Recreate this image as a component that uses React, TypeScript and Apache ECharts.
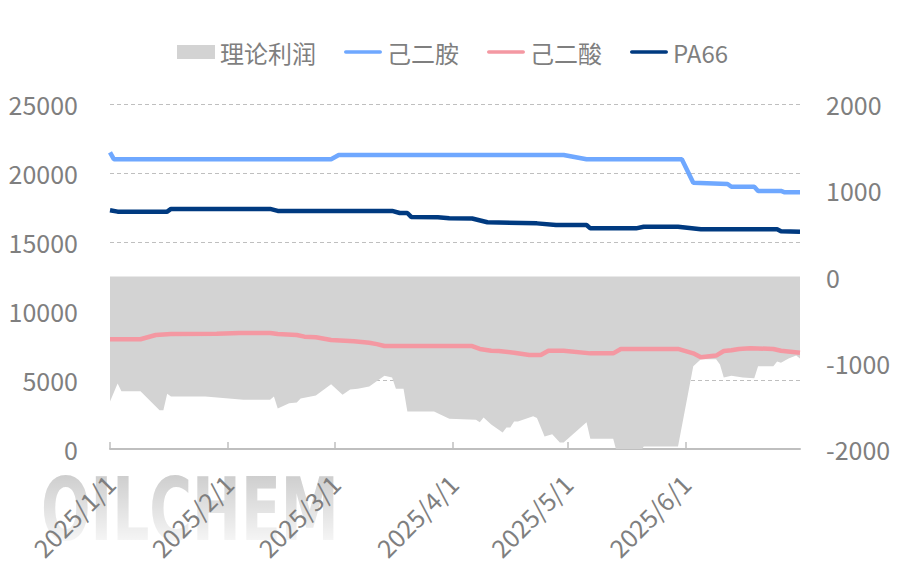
import React, { useEffect, useRef } from "react";
import * as echarts from "echarts";

const legendNames = ["理论利润", "己二胺", "己二酸", "PA66"];
const leftTicks = [0, 25000, 5000];
const rightTicks = [-2000, 2000, 1000];

const profitData: [string, number][] = [
  ["2025-01-01", -1450], ["2025-01-03", -1240], ["2025-01-04", -1330], ["2025-01-09", -1330],
  ["2025-01-14", -1550], ["2025-01-15", -1550], ["2025-01-16", -1360], ["2025-01-17", -1390],
  ["2025-01-26", -1390], ["2025-02-05", -1430], ["2025-02-12", -1430], ["2025-02-13", -1390],
  ["2025-02-14", -1530], ["2025-02-17", -1470], ["2025-02-19", -1460], ["2025-02-20", -1415],
  ["2025-02-24", -1380], ["2025-02-28", -1250], ["2025-03-03", -1370], ["2025-03-05", -1310],
  ["2025-03-07", -1300], ["2025-03-10", -1275], ["2025-03-14", -1150], ["2025-03-16", -1170],
  ["2025-03-17", -1300], ["2025-03-19", -1300], ["2025-03-20", -1565], ["2025-03-27", -1565],
  ["2025-03-31", -1650], ["2025-04-07", -1660], ["2025-04-08", -1690], ["2025-04-09", -1635],
  ["2025-04-11", -1715], ["2025-04-14", -1810], ["2025-04-15", -1750], ["2025-04-16", -1750],
  ["2025-04-17", -1680], ["2025-04-18", -1680], ["2025-04-22", -1620], ["2025-04-23", -1640],
  ["2025-04-25", -1855], ["2025-04-27", -1830], ["2025-04-29", -1925], ["2025-04-30", -1925],
  ["2025-05-06", -1690], ["2025-05-07", -1880], ["2025-05-13", -1880], ["2025-05-14", -2050],
  ["2025-05-20", -2050], ["2025-05-21", -1970], ["2025-05-30", -1970], ["2025-06-03", -1040],
  ["2025-06-05", -960], ["2025-06-09", -960], ["2025-06-10", -1020], ["2025-06-11", -1170],
  ["2025-06-13", -1150], ["2025-06-16", -1170], ["2025-06-19", -1180], ["2025-06-20", -1040],
  ["2025-06-24", -1040], ["2025-06-25", -985], ["2025-06-26", -1000], ["2025-06-28", -950],
  ["2025-06-30", -915], ["2025-07-01", -950],
];

const hmdaData: [string, number][] = [
  ["2025-01-01", 21500], ["2025-01-02", 21000], ["2025-02-28", 21000], ["2025-03-02", 21300],
  ["2025-04-30", 21300], ["2025-05-06", 21000], ["2025-05-31", 21000], ["2025-06-03", 19300],
  ["2025-06-12", 19200], ["2025-06-13", 19000], ["2025-06-19", 19000], ["2025-06-20", 18700],
  ["2025-06-26", 18700], ["2025-06-27", 18600], ["2025-07-01", 18600],
];

const adipicData: [string, number][] = [
  ["2025-01-01", 7950], ["2025-01-09", 7950], ["2025-01-13", 8260], ["2025-01-17", 8330],
  ["2025-01-29", 8350], ["2025-02-04", 8400], ["2025-02-12", 8400], ["2025-02-14", 8330],
  ["2025-02-19", 8260], ["2025-02-21", 8140], ["2025-02-24", 8100], ["2025-02-28", 7900],
  ["2025-03-06", 7800], ["2025-03-10", 7700], ["2025-03-12", 7600], ["2025-03-14", 7460],
  ["2025-04-06", 7460], ["2025-04-08", 7250], ["2025-04-11", 7120], ["2025-04-13", 7100],
  ["2025-04-17", 6980], ["2025-04-21", 6810], ["2025-04-24", 6810], ["2025-04-26", 7120],
  ["2025-04-30", 7120], ["2025-05-07", 6930], ["2025-05-13", 6930], ["2025-05-15", 7250],
  ["2025-05-30", 7250], ["2025-06-03", 6930], ["2025-06-05", 6650], ["2025-06-09", 6770],
  ["2025-06-11", 7100], ["2025-06-13", 7150], ["2025-06-15", 7250], ["2025-06-18", 7300],
  ["2025-06-24", 7250], ["2025-06-26", 7120], ["2025-07-01", 6980],
];

const pa66Data: [string, number][] = [
  ["2025-01-01", 17300], ["2025-01-03", 17200], ["2025-01-16", 17200], ["2025-01-17", 17400],
  ["2025-02-12", 17400], ["2025-02-14", 17250], ["2025-03-16", 17250], ["2025-03-18", 17100],
  ["2025-03-20", 17100], ["2025-03-21", 16820], ["2025-03-28", 16800], ["2025-03-31", 16720],
  ["2025-04-06", 16700], ["2025-04-10", 16430], ["2025-04-23", 16350], ["2025-04-28", 16230],
  ["2025-05-06", 16230], ["2025-05-07", 15990], ["2025-05-19", 15990], ["2025-05-21", 16110],
  ["2025-05-30", 16110], ["2025-06-05", 15920], ["2025-06-25", 15920], ["2025-06-26", 15780],
  ["2025-07-01", 15750],
];

const GRAY_TEXT = "#7f7f7f";
const FONT = '"Noto Sans CJK SC", "Noto Sans", sans-serif';
const LINE_ICON = "path://M0,0 M42,14 M2,5 L40,5 A2,2 0 0 1 40,9 L2,9 A2,2 0 0 1 2,5 Z";

function fmtDate(v: number) {
  const d = new Date(v);
  return `${d.getFullYear()}/${d.getMonth() + 1}/${d.getDate()}`;
}

export default function App() {
  const ref = useRef<HTMLDivElement>(null);
  useEffect(() => {
    if (!ref.current) return;
    const chart = echarts.init(ref.current, undefined, { renderer: "svg" });
    const DAY = 86400000;
    chart.setOption({
      animation: false,
      textStyle: { fontFamily: FONT },
      graphic: [
        {
          type: "text",
          left: 41,
          top: 466,
          z: -10,
          scaleX: 0.67,
          style: {
            text: "OILCHEM",
            font: 'bold 87px "DejaVu Sans", sans-serif',
            fill: "#cccccc",
          },
        },
        {
          type: "rect",
          left: 30,
          top: 472,
          z: -9,
          shape: { width: 330, height: 72 },
          style: {
            fill: new echarts.graphic.LinearGradient(0, 0, 0, 1, [
              { offset: 0, color: "rgba(255,255,255,0)" },
              { offset: 1, color: "rgba(255,255,255,0.85)" },
            ]),
          },
        },
      ],
      legend: {
        top: 35,
        left: 172,
        itemGap: 28,
        itemWidth: 38,
        itemHeight: 14,
        textStyle: { fontSize: 24, color: GRAY_TEXT, fontFamily: FONT },
        data: [
          { name: legendNames[0], icon: "rect" },
          { name: legendNames[1], icon: LINE_ICON },
          { name: legendNames[2], icon: LINE_ICON },
          { name: legendNames[3], icon: LINE_ICON },
        ],
      },
      grid: { left: 110, right: 106, top: 104, bottom: 131, containLabel: false },
      xAxis: {
        type: "time",
        min: "2025-01-01",
        max: "2025-07-01",
        minInterval: 28 * DAY,
        maxInterval: 31 * DAY,
        axisLine: { show: true, lineStyle: { color: "#bfbfbf", width: 2 } },
        axisTick: { show: true, inside: true, length: 7, lineStyle: { color: "#bfbfbf", width: 1.5 } },
        splitLine: { show: false },
        axisLabel: {
          rotate: 45,
          margin: 30,
          fontSize: 25,
          color: GRAY_TEXT,
          fontFamily: FONT,
          showMaxLabel: false,
          hideOverlap: false,
          formatter: (v: number) => fmtDate(v),
        },
      },
      yAxis: [
        {
          type: "value",
          min: leftTicks[0],
          max: leftTicks[1],
          interval: leftTicks[2],
          axisLine: { show: false },
          axisTick: { show: false },
          axisLabel: {
            fontSize: 25,
            color: GRAY_TEXT,
            margin: 32,
            fontFamily: FONT,
            formatter: (v: number) => String(v),
          },
          splitLine: { show: true, lineStyle: { color: "#bfbfbf", type: [4, 3], width: 1 } },
        },
        {
          type: "value",
          min: rightTicks[0],
          max: rightTicks[1],
          interval: rightTicks[2],
          axisLine: { show: false },
          axisTick: { show: false },
          axisLabel: {
            fontSize: 25,
            color: GRAY_TEXT,
            margin: 26,
            fontFamily: FONT,
            formatter: (v: number) => String(v),
          },
          splitLine: { show: false },
        },
      ],
      series: [
        {
          name: legendNames[0],
          type: "line",
          yAxisIndex: 1,
          data: profitData,
          symbol: "none",
          lineStyle: { width: 0, color: "#d3d3d3" },
          itemStyle: { color: "#d3d3d3" },
          areaStyle: { color: "#d3d3d3", opacity: 1 },
          z: 1,
        },
        {
          name: legendNames[1],
          type: "line",
          yAxisIndex: 0,
          data: hmdaData,
          symbol: "none",
          lineStyle: { width: 4.5, color: "#6fa8ff" },
          itemStyle: { color: "#6fa8ff" },
          z: 3,
        },
        {
          name: legendNames[2],
          type: "line",
          yAxisIndex: 0,
          data: adipicData,
          symbol: "none",
          lineStyle: { width: 4.5, color: "#f498a2" },
          itemStyle: { color: "#f498a2" },
          z: 3,
        },
        {
          name: legendNames[3],
          type: "line",
          yAxisIndex: 0,
          data: pa66Data,
          symbol: "none",
          lineStyle: { width: 4.5, color: "#003a80" },
          itemStyle: { color: "#003a80" },
          z: 3,
        },
      ],
    });
    return () => chart.dispose();
  }, []);
  return (
    <div
      ref={ref}
      style={{ position: "fixed", left: 0, top: 0, width: 906, height: 580, background: "#fff" }}
    />
  );
}
